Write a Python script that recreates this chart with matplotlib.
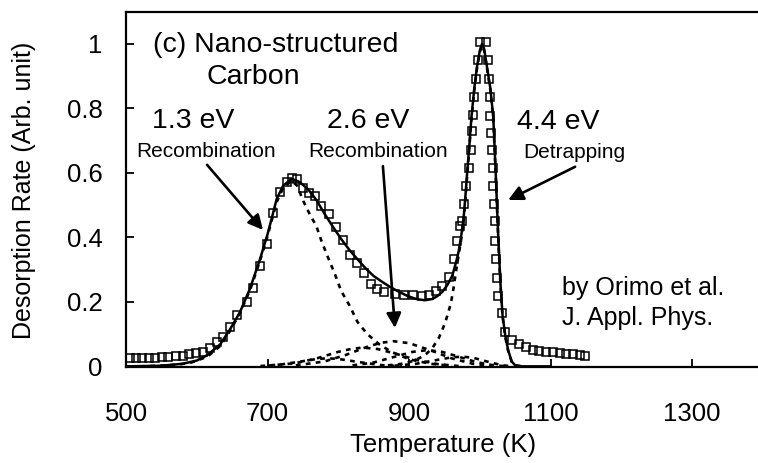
import numpy as np
import matplotlib.pyplot as plt

plt.rcParams['font.family'] = ['Liberation Sans', 'DejaVu Sans']

# measured desorption rate (open squares)
temp_exp = [505, 514, 523, 532, 541, 551, 560, 570, 580, 589, 599, 609, 618, 628,
            637, 647, 657, 671, 680, 689, 699, 708, 718, 727, 735, 742, 750, 758,
            767, 776, 787, 797, 807, 817, 826, 836, 846, 855, 865, 880, 893, 905,
            918, 928, 938, 947, 956, 963, 968, 972, 975, 978, 981, 984, 987, 989,
            991, 992, 995, 998, 1000, 1009, 1011, 1013, 1014, 1015, 1016, 1017,
            1018, 1019, 1020, 1021, 1022, 1023, 1024, 1026, 1031, 1035, 1046,
            1056, 1065, 1075, 1084, 1093, 1103, 1113, 1122, 1132, 1141, 1149]
rate_exp = [0.027, 0.027, 0.027, 0.027, 0.027, 0.028, 0.029, 0.031, 0.033, 0.037,
            0.042, 0.046, 0.057, 0.075, 0.092, 0.123, 0.158, 0.200, 0.244, 0.310,
            0.380, 0.475, 0.540, 0.572, 0.584, 0.580, 0.552, 0.538, 0.527, 0.497,
            0.473, 0.432, 0.392, 0.345, 0.319, 0.290, 0.255, 0.239, 0.232, 0.225,
            0.220, 0.220, 0.218, 0.222, 0.234, 0.250, 0.277, 0.334, 0.390, 0.434,
            0.450, 0.503, 0.560, 0.616, 0.670, 0.730, 0.780, 0.834, 0.890, 0.950,
            1.005, 1.005, 0.950, 0.890, 0.834, 0.778, 0.725, 0.670, 0.616, 0.560,
            0.503, 0.450, 0.390, 0.334, 0.275, 0.219, 0.166, 0.106, 0.081, 0.069,
            0.059, 0.051, 0.048, 0.045, 0.043, 0.041, 0.039, 0.037, 0.035, 0.031]

# total fit (solid line)
temp_fit = [500, 550, 580, 600, 615, 633, 647, 661, 675, 689, 700, 706, 713, 722,
            734, 745, 757, 769, 780, 792, 804, 816, 828, 839, 850, 862, 874, 886,
            898, 910, 922, 933, 940, 947, 954, 961, 966, 970, 974, 977, 980, 982,
            985, 988, 992, 996, 1000, 1003, 1006, 1010, 1015, 1019, 1022, 1024,
            1026, 1029, 1032, 1036, 1040, 1045, 1050, 1060, 1100]
rate_fit = [0.0, 0.002, 0.008, 0.018, 0.035, 0.068, 0.115, 0.168, 0.24, 0.33, 0.41,
            0.46, 0.52, 0.56, 0.582, 0.572, 0.55, 0.516, 0.475, 0.434, 0.395, 0.36,
            0.33, 0.303, 0.28, 0.262, 0.245, 0.231, 0.218, 0.209, 0.205, 0.209,
            0.218, 0.231, 0.252, 0.281, 0.32, 0.356, 0.41, 0.46, 0.54, 0.60, 0.68,
            0.77, 0.86, 0.93, 0.98, 1.0, 0.985, 0.93, 0.86, 0.77, 0.62, 0.51, 0.40,
            0.26, 0.16, 0.094, 0.05, 0.015, 0.003, 0.0, 0.0]

# 1.3 eV component (dashed)
temp_c1 = [520, 560, 590, 615, 633, 647, 661, 675, 689, 700, 713, 722, 734, 742,
           750, 760, 769, 776, 785, 795, 804, 816, 827, 841, 858, 875, 900, 930, 960]
rate_c1 = [0.0, 0.003, 0.01, 0.03, 0.063, 0.11, 0.165, 0.235, 0.325, 0.405, 0.51,
           0.553, 0.575, 0.56, 0.515, 0.47, 0.435, 0.39, 0.34, 0.287, 0.234, 0.188,
           0.138, 0.1, 0.068, 0.045, 0.022, 0.008, 0.002]

# 4.4 eV component (dashed)
temp_c3 = [870, 890, 905, 915, 925, 933, 942, 951, 959, 963, 967, 970, 974, 977,
           980, 982, 985, 988, 992, 996, 1000, 1003, 1006, 1010, 1015, 1019, 1022,
           1024, 1026, 1029, 1032, 1036, 1040, 1045, 1050, 1060]
rate_c3 = [0.003, 0.008, 0.016, 0.026, 0.04, 0.057, 0.088, 0.135, 0.195, 0.245,
           0.305, 0.345, 0.40, 0.45, 0.53, 0.59, 0.675, 0.765, 0.855, 0.925, 0.975,
           0.995, 0.98, 0.925, 0.855, 0.765, 0.615, 0.505, 0.395, 0.255, 0.155,
           0.09, 0.048, 0.014, 0.003, 0.0]

# small 2.6 eV recombination components (dashed)
temp_s1 = [740, 780, 810, 840, 860, 878, 900, 930, 960, 990, 1020]
rate_s1 = [0.003, 0.015, 0.035, 0.06, 0.073, 0.078, 0.072, 0.05, 0.025, 0.008, 0.001]
temp_s2 = [700, 740, 770, 800, 820, 835, 855, 880, 910, 940, 970]
rate_s2 = [0.002, 0.01, 0.025, 0.045, 0.055, 0.058, 0.054, 0.04, 0.02, 0.007, 0.001]
temp_s3 = [820, 850, 880, 905, 925, 945, 970, 995, 1020, 1040]
rate_s3 = [0.003, 0.012, 0.03, 0.045, 0.05, 0.046, 0.03, 0.013, 0.003, 0.0]
temp_s4 = [880, 910, 940, 960, 975, 990, 1010, 1030, 1045]
rate_s4 = [0.002, 0.008, 0.02, 0.028, 0.03, 0.027, 0.015, 0.004, 0.0]
temp_s5 = [690, 720, 750, 770, 785, 800, 830, 860, 890]
rate_s5 = [0.001, 0.006, 0.016, 0.023, 0.025, 0.023, 0.013, 0.004, 0.0]

xticks = [500, 700, 900, 1100, 1300]
yticks = [0, 0.2, 0.4, 0.6, 0.8, 1]
ytick_labels = ['0', '0.2', '0.4', '0.6', '0.8', '1']

fig = plt.figure(figsize=(7.58, 4.63), dpi=100)
ax = fig.add_axes([126 / 758, 1 - 367 / 463, 632 / 758, 355 / 463])

dash_kw = dict(color='black', lw=1.9, ls=(0, (1.8, 2.0)))
for t, r in [(temp_c1, rate_c1), (temp_c3, rate_c3), (temp_s1, rate_s1),
             (temp_s2, rate_s2), (temp_s3, rate_s3), (temp_s4, rate_s4),
             (temp_s5, rate_s5)]:
    ax.plot(t, r, **dash_kw)

ax.plot(temp_fit, rate_fit, color='black', lw=1.8)
ax.plot(temp_exp, rate_exp, ls='none', marker='s', ms=5.5, mfc='none',
        mec='black', mew=1.1)

ax.set_xlim(500, 1393)
ax.set_ylim(-0.002, 1.099)
ax.set_xticks(xticks)
ax.set_yticks(yticks)
ax.set_yticklabels(ytick_labels)
ax.spines['right'].set_visible(False)
for s in ['left', 'bottom', 'top']:
    ax.spines[s].set_linewidth(1.6)
ax.tick_params(axis='both', direction='in', length=6, width=1.3, labelsize=18.5)
ax.tick_params(axis='x', pad=25)
ax.tick_params(axis='y', pad=17)

fig.text(24 / 758, 1 - 190 / 463, 'Desorption Rate (Arb. unit)', rotation=90,
         ha='center', va='center', fontsize=18)
fig.text(443 / 758, 1 - 445 / 463, 'Temperature (K)', ha='center', va='center',
         fontsize=18.5)

big = 20.5
small = 15
ax.text(538, 0.997, '(c) Nano-structured', fontsize=big, va='center')
ax.text(614, 0.898, 'Carbon', fontsize=big, va='center')
ax.text(537, 0.761, '1.3 eV', fontsize=big, va='center')
ax.text(514, 0.665, 'Recombination', fontsize=small, va='center')
ax.text(784, 0.761, '2.6 eV', fontsize=big, va='center')
ax.text(757, 0.665, 'Recombination', fontsize=small, va='center')
ax.text(1053, 0.758, '4.4 eV', fontsize=big, va='center')
ax.text(1061, 0.662, 'Detrapping', fontsize=small, va='center')
ax.text(1116, 0.243, 'by Orimo et al.', fontsize=18, va='center')
ax.text(1116, 0.150, 'J. Appl. Phys.', fontsize=18, va='center')

arrow = dict(arrowstyle='-|>', lw=1.9, color='black', mutation_scale=22,
             shrinkA=0, shrinkB=0)
ax.annotate('', xy=(693.6, 0.423), xytext=(614.5, 0.625), arrowprops=arrow)
ax.annotate('', xy=(880, 0.119), xytext=(863, 0.621), arrowprops=arrow)
ax.annotate('', xy=(1040, 0.516), xytext=(1134.6, 0.619), arrowprops=arrow)

fig.savefig('out.png', dpi=100)
